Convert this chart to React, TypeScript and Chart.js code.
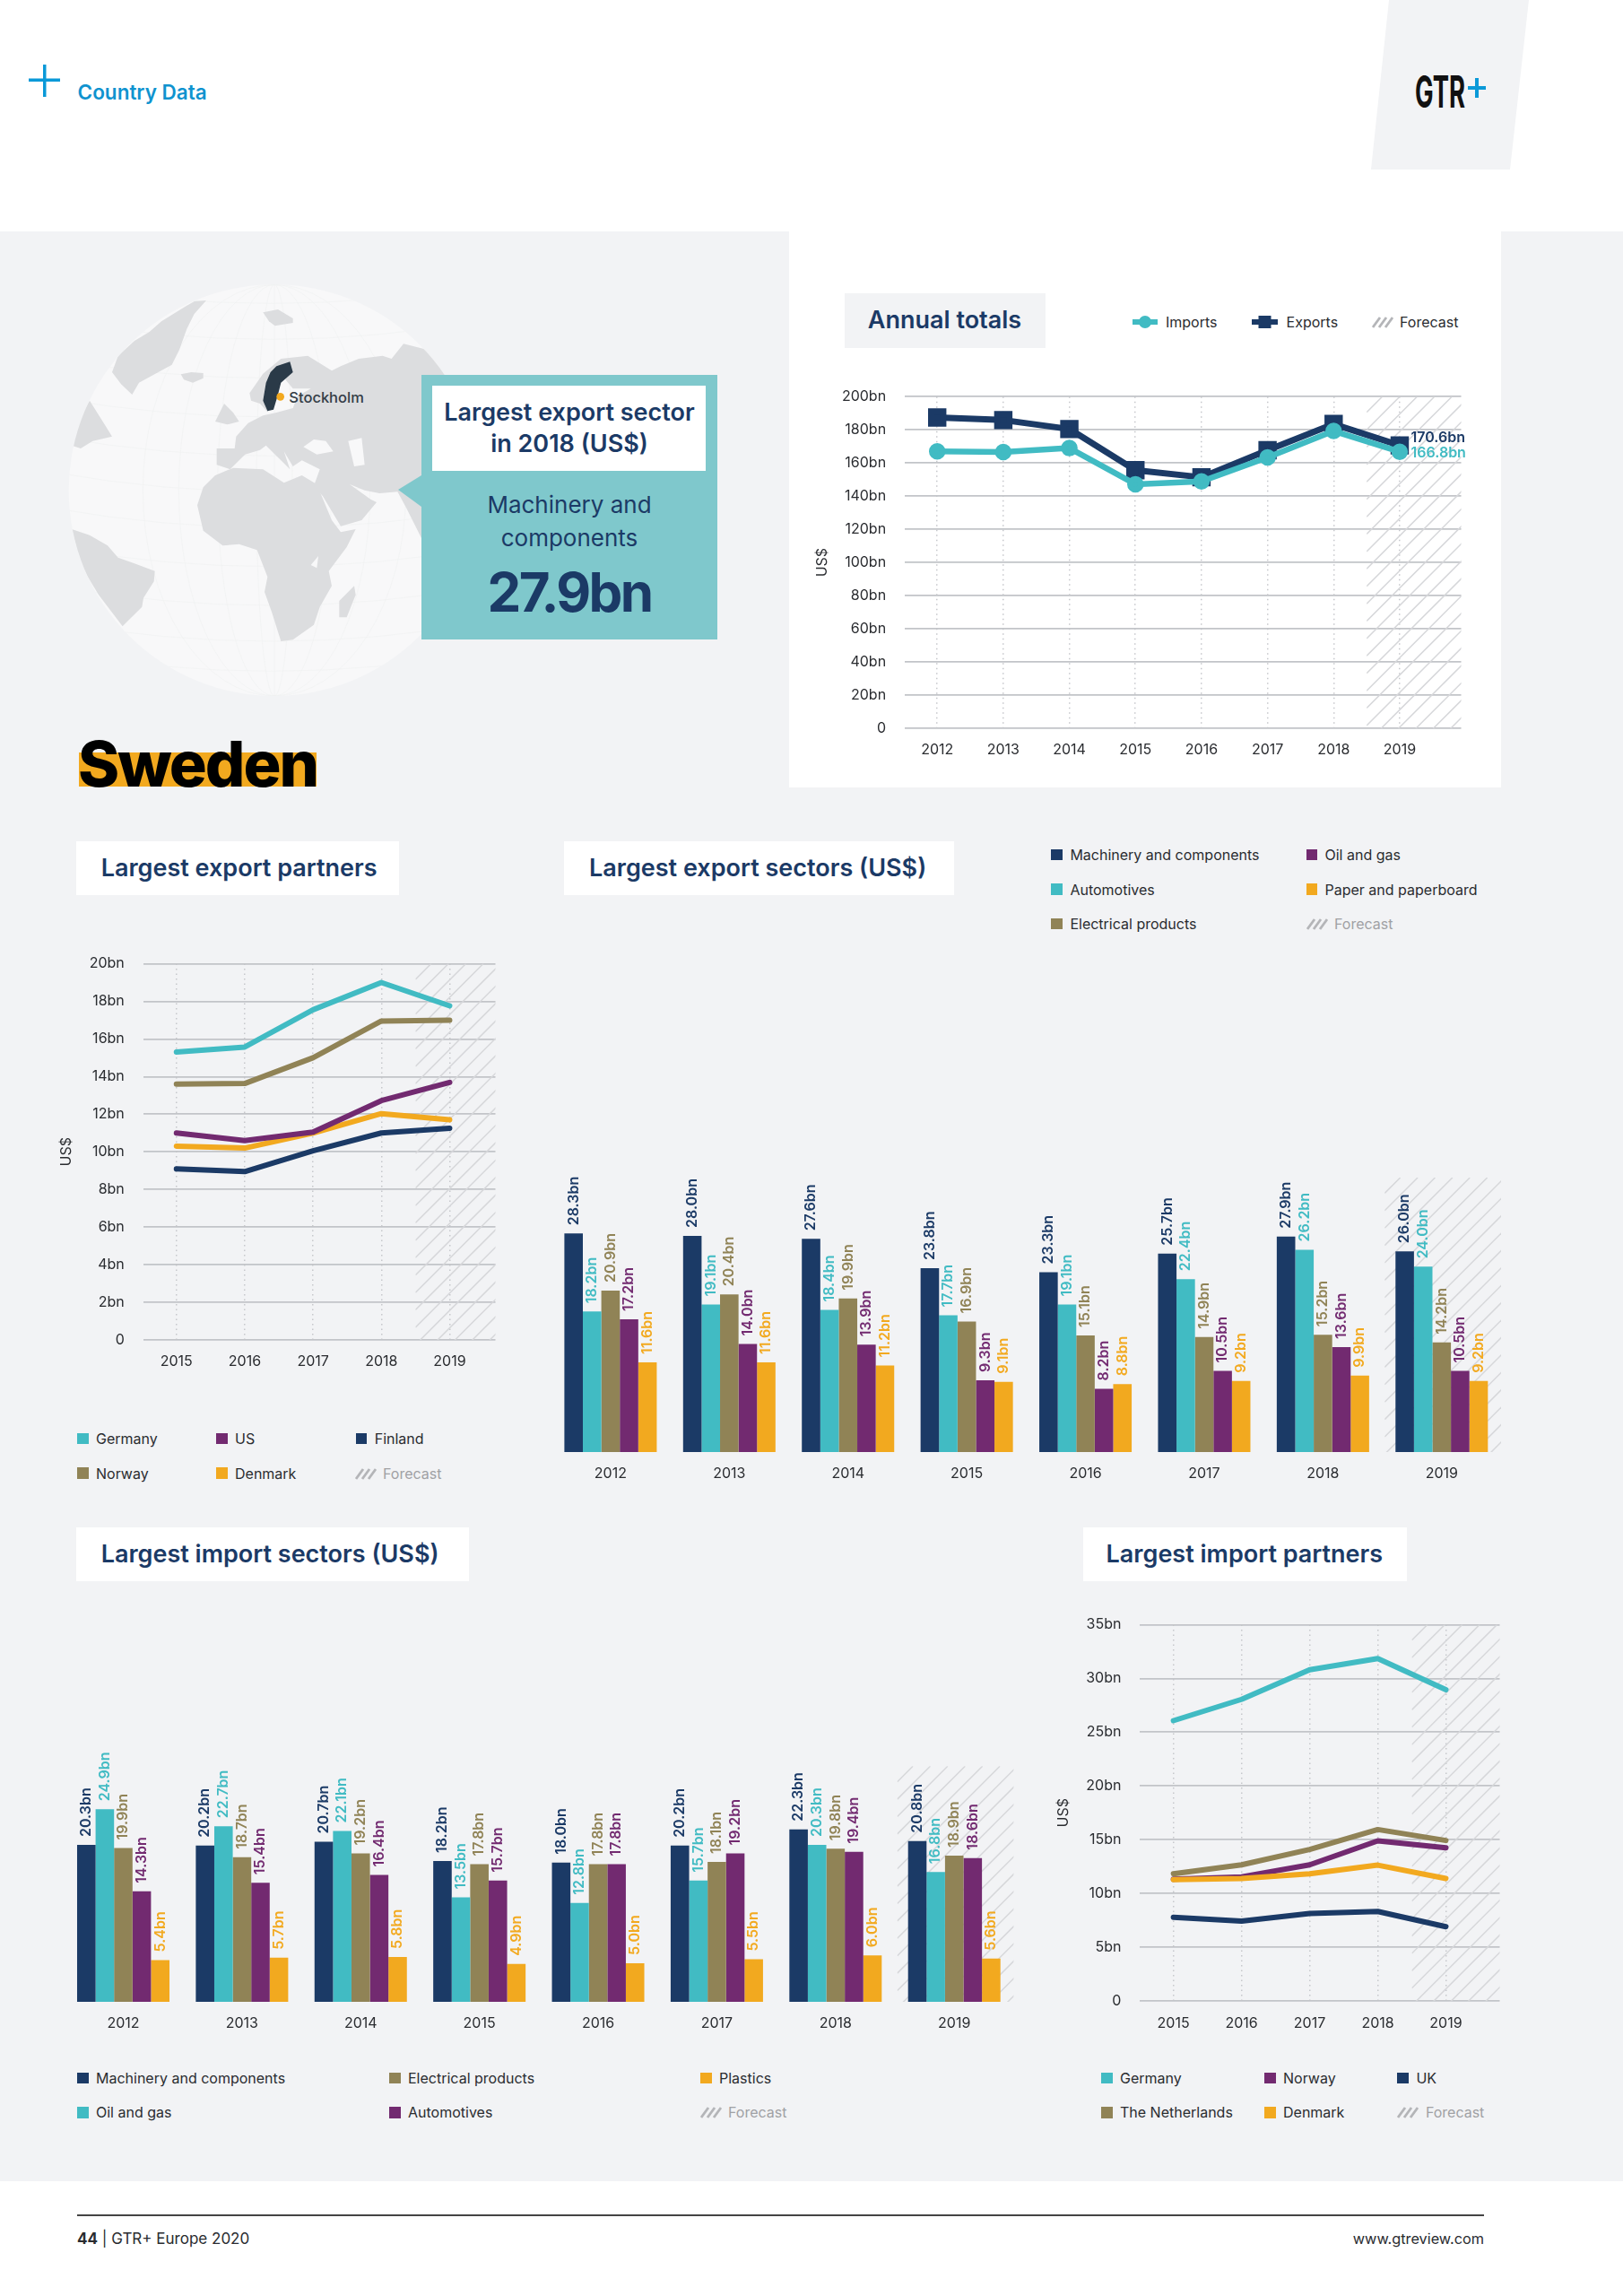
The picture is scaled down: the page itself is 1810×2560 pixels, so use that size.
import React, { useEffect, useRef } from "react";
import { Chart, registerables } from "chart.js";

Chart.register(...registerables);

const NAVY = "#1b3a66";
const TEAL = "#41bbc3";
const KHAKI = "#908356";
const PURPLE = "#722a70";
const ORANGE = "#f2a91f";
const BG = "#f2f3f5";
const GRID = "#c2c4c8";
const DOT = "#c6c8cc";
const HATCH = "#d6d7da";
const INK = "#2a2c30";
const FONT = "Inter, 'Noto Sans', sans-serif";

// ---------- data ----------
const totalYears = [2012, 2013, 2014, 2015, 2016, 2017, 2018, 2019];
const importsTotal = [167, 166.6, 169, 147.2, 148.9, 163.4, 179.3, 166.8];
const exportsTotal = [187.4, 185.9, 180.5, 155.7, 151.4, 167.7, 183.5, 170.6];

const partnerYears = [2015, 2016, 2017, 2018, 2019];
const expGermany = [15.3, 15.57, 17.55, 19.0, 17.76];
const expNorway = [13.6, 13.63, 15.0, 16.95, 17.0];
const expUS = [11.0, 10.6, 11.05, 12.72, 13.69];
const expDenmark = [10.3, 10.2, 11.0, 12.03, 11.7];
const expFinland = [9.09, 8.95, 10.05, 11.0, 11.25];

const impGermany = [26.07, 28.05, 30.8, 31.85, 28.94];
const impNetherlands = [11.84, 12.67, 14.1, 15.95, 14.93];
const impNorway = [11.33, 11.55, 12.67, 14.9, 14.26];
const impDenmark = [11.3, 11.4, 11.84, 12.64, 11.4];
const impUK = [7.79, 7.43, 8.14, 8.33, 6.92];

const sectorYears = ["2012", "2013", "2014", "2015", "2016", "2017", "2018", "2019"];
const exMachinery = [28.3, 28.0, 27.6, 23.8, 23.3, 25.7, 27.9, 26.0];
const exAutomotives = [18.2, 19.1, 18.4, 17.7, 19.1, 22.4, 26.2, 24.0];
const exElectrical = [20.9, 20.4, 19.9, 16.9, 15.1, 14.9, 15.2, 14.2];
const exOilGas = [17.2, 14.0, 13.9, 9.3, 8.2, 10.5, 13.6, 10.5];
const exPaper = [11.6, 11.6, 11.2, 9.1, 8.8, 9.2, 9.9, 9.2];

const imMachinery = [20.3, 20.2, 20.7, 18.2, 18.0, 20.2, 22.3, 20.8];
const imOilGas = [24.9, 22.7, 22.1, 13.5, 12.8, 15.7, 20.3, 16.8];
const imElectrical = [19.9, 18.7, 19.2, 17.8, 17.8, 18.1, 19.8, 18.9];
const imAutomotives = [14.3, 15.4, 16.4, 15.7, 17.8, 19.2, 19.4, 18.6];
const imPlastics = [5.4, 5.7, 5.8, 4.9, 5.0, 5.5, 6.0, 5.6];

const sectorForecastStart = 6.52;
const partnerForecastStart = 2018.5;

// ---------- chart helpers ----------
type Box = { x: number; y: number; w: number; h: number };
type Plot = { x0: number; y0: number; x1: number; y1: number };

function hatchPlugin(fromValue: number) {
  return {
    id: "hatch",
    beforeDatasetsDraw(chart: any) {
      const { ctx, chartArea: a, scales } = chart;
      const left = scales.x.getPixelForValue(fromValue);
      const step = 19.4;
      ctx.save();
      ctx.beginPath();
      ctx.rect(left, a.top, a.right - left, a.bottom - a.top);
      ctx.clip();
      ctx.strokeStyle = HATCH;
      ctx.lineWidth = 1.5;
      const span = a.right - left + (a.bottom - a.top);
      for (let c = 17.4; c < span + step; c += step) {
        ctx.beginPath();
        ctx.moveTo(left, a.top + c);
        ctx.lineTo(left + c, a.top);
        ctx.stroke();
      }
      ctx.restore();
    },
  };
}

const barLabelPlugin = {
  id: "barLabels",
  afterDatasetsDraw(chart: any) {
    const { ctx } = chart;
    chart.data.datasets.forEach((ds: any, i: number) => {
      chart.getDatasetMeta(i).data.forEach((el: any, j: number) => {
        ctx.save();
        ctx.translate(el.x, el.y - 9);
        ctx.rotate(-Math.PI / 2);
        ctx.font = `600 16px ${FONT}`;
        ctx.fillStyle = ds.backgroundColor;
        ctx.textAlign = "left";
        ctx.textBaseline = "middle";
        ctx.fillText(ds.data[j].toFixed(1) + "bn", 0, 0);
        ctx.restore();
      });
    });
  },
};

const endLabelPlugin = {
  id: "endLabels",
  afterDatasetsDraw(chart: any) {
    const { ctx } = chart;
    chart.data.datasets.forEach((ds: any, i: number) => {
      const pts = chart.getDatasetMeta(i).data;
      const last = pts[pts.length - 1];
      const v = ds.data[ds.data.length - 1].y;
      ctx.save();
      ctx.font = `600 16px ${FONT}`;
      ctx.fillStyle = ds.borderColor;
      ctx.textAlign = "left";
      ctx.textBaseline = "middle";
      ctx.fillText(v.toFixed(1) + "bn", last.x + 12.5, last.y + ds.labelShift);
      ctx.restore();
    });
  },
};

const tickFont = { family: FONT, size: 16, weight: "400" as const };

function lineConfig(
  box: Box,
  plot: Plot,
  years: number[],
  xMin: number,
  xMax: number,
  yMax: number,
  yStep: number,
  datasets: any[],
  extra: any[] = []
) {
  return {
    type: "line",
    data: { datasets },
    plugins: [hatchPlugin(partnerForecastStart), ...extra],
    options: {
      animation: false,
      responsive: false,
      devicePixelRatio: 1,
      layout: {
        autoPadding: false,
        padding: { left: 0, top: plot.y0 - box.y, right: box.x + box.w - plot.x1, bottom: 0 },
      },
      plugins: { legend: { display: false }, tooltip: { enabled: false } },
      elements: { line: { tension: 0, borderCapStyle: "round", borderJoinStyle: "round" } },
      scales: {
        x: {
          type: "linear",
          min: xMin,
          max: xMax,
          afterFit(s: any) {
            s.height = box.y + box.h - plot.y1;
            s.paddingLeft = 0;
            s.paddingRight = 0;
          },
          afterBuildTicks(s: any) {
            s.ticks = years.map((v) => ({ value: v }));
          },
          grid: { color: DOT, lineWidth: 1.5, drawTicks: false },
          border: { display: false, dash: [1.5, 4] },
          ticks: {
            padding: 15,
            color: INK,
            font: tickFont,
            maxRotation: 0,
            autoSkip: false,
            callback: (v: number) => String(v),
          },
        },
        y: {
          min: 0,
          max: yMax,
          afterFit(s: any) {
            s.width = plot.x0 - box.x;
            s.paddingTop = 0;
            s.paddingBottom = 0;
          },
          grid: { color: GRID, lineWidth: 1.7, drawTicks: false },
          border: { display: false },
          title: { display: true, text: "US$", color: INK, font: tickFont, padding: 0 },
          ticks: {
            padding: 21,
            stepSize: yStep,
            color: INK,
            font: tickFont,
            callback: (v: number) => (v === 0 ? "0" : v + "bn"),
          },
        },
      },
    },
  };
}

function lineSet(label: string, years: number[], values: number[], color: string, width = 6, more: any = {}) {
  return {
    label,
    data: years.map((y, i) => ({ x: y, y: values[i] })),
    borderColor: color,
    backgroundColor: color,
    borderWidth: width,
    pointRadius: 0,
    ...more,
  };
}

function barConfig(box: Box, plot: Plot, yMax: number, series: [string, number[], string][]) {
  return {
    type: "bar",
    data: {
      labels: sectorYears,
      datasets: series.map(([label, data, color]) => ({ label, data, backgroundColor: color })),
    },
    plugins: [hatchPlugin(sectorForecastStart), barLabelPlugin],
    options: {
      animation: false,
      responsive: false,
      devicePixelRatio: 1,
      layout: {
        autoPadding: false,
        padding: { left: plot.x0 - box.x, top: plot.y0 - box.y, right: box.x + box.w - plot.x1, bottom: 0 },
      },
      plugins: { legend: { display: false }, tooltip: { enabled: false } },
      datasets: { bar: { categoryPercentage: 0.778, barPercentage: 1 } },
      scales: {
        x: {
          afterFit(s: any) {
            s.height = box.y + box.h - plot.y1;
          },
          grid: { display: false, drawTicks: false },
          border: { display: false },
          ticks: { padding: 15, color: INK, font: tickFont, maxRotation: 0, autoSkip: false },
        },
        y: { display: false, min: 0, max: yMax },
      },
    },
  };
}

function ChartBox({ box, make }: { box: Box; make: () => any }) {
  const ref = useRef<HTMLCanvasElement>(null);
  useEffect(() => {
    const chart = new Chart(ref.current as HTMLCanvasElement, make());
    return () => chart.destroy();
  }, []);
  return (
    <canvas
      ref={ref}
      width={box.w}
      height={box.h}
      style={{ position: "absolute", left: box.x, top: box.y, width: box.w, height: box.h, display: "block" }}
    />
  );
}

// ---------- html helpers ----------
function T(p: {
  x: number;
  y: number;
  s: number;
  w?: number;
  c?: string;
  a?: "l" | "c" | "r";
  ls?: number;
  children: React.ReactNode;
}) {
  const tx = p.a === "c" ? "-50%" : p.a === "r" ? "-100%" : "0";
  return (
    <div
      style={{
        position: "absolute",
        left: p.x,
        top: p.y,
        transform: `translate(${tx}, -50%)`,
        fontFamily: FONT,
        fontSize: p.s,
        fontWeight: p.w || 400,
        color: p.c || INK,
        lineHeight: 1,
        whiteSpace: "nowrap",
        letterSpacing: p.ls || 0,
      }}
    >
      {p.children}
    </div>
  );
}

function Rect(p: { x: number; y: number; w: number; h: number; c: string }) {
  return <div style={{ position: "absolute", left: p.x, top: p.y, width: p.w, height: p.h, background: p.c }} />;
}

function Swatch({ x, y, label, color }: { x: number; y: number; label: string; color: string }) {
  return (
    <>
      <Rect x={x} y={y - 6.3} w={12.5} h={12.5} c={color} />
      <T x={x + 21} y={y} s={16}>
        {label}
      </T>
    </>
  );
}

function ForecastKey({ x, y, gap = 32, c = "#a0a1a4" }: { x: number; y: number; gap?: number; c?: string }) {
  return (
    <>
      <svg style={{ position: "absolute", left: x, top: y - 7 }} width={24} height={14}>
        {[0, 7, 14].map((d) => (
          <line key={d} x1={d + 1} y1={13} x2={d + 9} y2={2} stroke="#b4b5b8" strokeWidth={2.8} />
        ))}
      </svg>
      <T x={x + gap} y={y} s={16} c={c}>
        Forecast
      </T>
    </>
  );
}

function TitleBox(p: { x0: number; x1: number; y0: number; y1: number; tx: number; c: string; children: string }) {
  return (
    <>
      <Rect x={p.x0} y={p.y0} w={p.x1 - p.x0} h={p.y1 - p.y0} c={p.c} />
      <T x={p.tx} y={(p.y0 + p.y1) / 2 - 1} s={27} w={600} c={NAVY}>
        {p.children}
      </T>
    </>
  );
}

function Globe() {
  const land = "#dcdddf";
  const sea = "#f8f8f9";
  const meridians = [60, 190, 320, 440];
  const parallels = [110, 230, 360, 490, 620, 740, 860, 990, 1120, 1240, 1340];
  return (
    <svg
      style={{ position: "absolute", left: 60, top: 300 }}
      width={480}
      height={500}
      viewBox="0 0 1440 1500"
    >
      <defs>
        <clipPath id="gl">
          <circle cx={738} cy={740} r={688} />
        </clipPath>
      </defs>
      <circle cx={738} cy={740} r={688} fill={sea} />
      <g clipPath="url(#gl)">
        <g fill="none" stroke="#f0f1f2" strokeWidth={2}>
          {meridians.map((m) => (
            <ellipse key={m} cx={738} cy={740} rx={m} ry={688} />
          ))}
          <line x1={738} y1={52} x2={738} y2={1428} />
          {parallels.map((y) => (
            <path key={y} d={`M 0 ${y - 60} Q 738 ${y + 70} 1440 ${y - 60}`} />
          ))}
        </g>
        <g fill={land}>
          <path d="M510 105 L470 108 L440 125 L400 150 L360 175 L320 210 L270 240 L215 290 L195 345 L225 385 L262 420 L285 380 L340 350 L395 320 L420 270 L445 200 L470 150 Z" />
          <path d="M425 352 L460 345 L500 348 L500 365 L465 380 L435 370 Z" />
          <path d="M700 145 L750 135 L800 165 L800 180 L740 190 L720 175 Z" />
          <path d="M120 440 L170 520 L195 560 L130 575 L90 600 L60 590 L80 510 Z" />
          <path d="M60 870 L120 890 L180 925 L215 965 L270 985 L338 1010 L335 1045 L300 1100 L295 1130 L230 1195 L150 1090 L90 990 Z" />
          <path d="M480 790 L500 730 L540 690 L600 665 L700 670 L770 715 L830 690 L880 720 L930 840 L960 880 L1010 870 L980 930 L920 1010 L930 1060 L890 1130 L870 1190 L800 1240 L760 1245 L730 1150 L705 1080 L715 1030 L680 940 L620 920 L565 925 L500 875 Z" />
          <path d="M1005 1060 L1010 1090 L980 1165 L955 1165 L955 1110 Z" />
          <path d="M540 510 L570 450 L600 480 L620 510 L580 520 Z" />
          <path d="M545 600 L605 600 L610 560 L650 515 L700 490 L745 480 L800 465 L815 425 L860 400 L800 400 L775 370 L775 345 L740 395 L735 450 L715 478 L690 450 L660 440 L655 415 L700 350 L760 300 L850 290 L930 340 L960 325 L1020 300 L1100 290 L1130 300 L1170 250 L1250 270 L1310 350 L1440 350 L1440 900 L1230 900 L1180 800 L1150 745 L1090 750 L1040 740 L990 720 L1060 770 L1080 780 L1030 840 L960 860 L900 760 L870 725 L890 670 L830 640 L800 660 L770 610 L790 670 L760 640 L710 590 L690 605 L640 620 L590 670 L545 655 Z" />
        </g>
        <g fill={sea}>
          <path d="M985 575 L1030 565 L1040 655 L1005 660 Z" />
          <path d="M835 595 L870 570 L910 575 L935 610 L880 620 Z" />
          <path d="M860 990 L885 960 L880 1000 Z" />
        </g>
        <path
          d="M745 325 L790 310 L800 345 L760 380 L750 420 L735 470 L715 475 L700 440 L710 380 L725 345 Z"
          fill="#2a3a48"
        />
        <circle cx={758} cy={427} r={13} fill={ORANGE} />
      </g>
    </svg>
  );
}

// ---------- page ----------
const annualBox: Box = { x: 907.5, y: 420, w: 760, h: 440 };
const annualPlot: Plot = { x0: 1008.6, y0: 442.3, x1: 1629, y1: 812 };
const partnersExBox: Box = { x: 64.5, y: 1055, w: 510, h: 480 };
const partnersExPlot: Plot = { x0: 159.3, y0: 1074.5, x1: 552, y1: 1494 };
const partnersImBox: Box = { x: 1176.5, y: 1790, w: 510, h: 480 };
const partnersImPlot: Plot = { x0: 1270.9, y0: 1811.4, x1: 1672, y1: 2231.2 };
const exSectorBox: Box = { x: 600, y: 1290, w: 1085, h: 370 };
const exSectorPlot: Plot = { x0: 614.7, y0: 1313, x1: 1674, y1: 1619 };
const imSectorBox: Box = { x: 60, y: 1940, w: 1085, h: 330 };
const imSectorPlot: Plot = { x0: 71.3, y0: 1969.3, x1: 1130.4, y1: 2232 };

export default function App() {
  return (
    <div style={{ position: "absolute", left: 0, top: 0, width: 1810, height: 2560, background: "#fff", overflow: "hidden" }}>
      <Rect x={0} y={258} w={1810} h={2174} c={BG} />
      <Rect x={880} y={258} w={794} h={620} c="#fff" />

      <svg style={{ position: "absolute", left: 0, top: 0 }} width={1810} height={260}>
        <polygon points="1549,0 1705,0 1684,189 1529,189" fill={BG} />
        <rect x={32} y={87.5} width={35} height={3.5} fill="#0a99d8" />
        <rect x={48} y={72} width={3.5} height={36} fill="#0a99d8" />
        <text x={1578} y={120} fontFamily={FONT} fontSize={49} fontWeight={700} textLength={56} lengthAdjust="spacingAndGlyphs" fill="#111">
          GTR
        </text>
        <rect x={1637} y={96} width={20} height={4} fill="#0a99d8" />
        <rect x={1645} y={87} width={4} height={22} fill="#0a99d8" />
      </svg>
      <T x={86.6} y={103} s={22.5} w={600} c="#0f93cf">
        Country Data
      </T>

      <Globe />
      <T x={322.3} y={442.7} s={16.5} w={500} c="#333c46">
        Stockholm
      </T>
      <svg style={{ position: "absolute", left: 440, top: 520 }} width={32} height={50}>
        <polygon points="4,26 30,10 30,45" fill="#7fc8cc" />
      </svg>
      <Rect x={470} y={418} w={330} h={295} c="#7fc8cc" />
      <Rect x={482.3} y={430} w={305} h={95} c="#fff" />
      <T x={635} y={459} s={27} w={600} c={NAVY} a="c">
        Largest export sector
      </T>
      <T x={635} y={494} s={27} w={600} c={NAVY} a="c">
        in 2018 (US$)
      </T>
      <T x={635} y={563} s={26} c={NAVY} a="c">
        Machinery and
      </T>
      <T x={635} y={600} s={26} c={NAVY} a="c">
        components
      </T>
      <T x={635} y={660} s={60} w={700} c={NAVY} a="c" ls={-2.6}>
        27.9bn
      </T>

      <Rect x={88} y={839} w={265} h={38} c={ORANGE} />
      <T x={87} y={851.6} s={70} w={800} c="#000" ls={-2}>
        Sweden
      </T>

      {/* annual totals */}
      <TitleBox x0={941.7} x1={1166} y0={327} y1={387.7} tx={967.8} c={BG}>
        Annual totals
      </TitleBox>
      <svg style={{ position: "absolute", left: 1260, top: 348 }} width={170} height={22}>
        <line x1={3} y1={11} x2={31} y2={11} stroke={TEAL} strokeWidth={6} />
        <circle cx={17} cy={11} r={7} fill={TEAL} />
        <line x1={136} y1={11} x2={165} y2={11} stroke={NAVY} strokeWidth={6} />
        <rect x={143.5} y={4} width={14} height={14} fill={NAVY} />
      </svg>
      <T x={1300} y={359} s={16}>
        Imports
      </T>
      <T x={1434.6} y={359} s={16}>
        Exports
      </T>
      <ForecastKey x={1529.5} y={359} gap={31.5} c={INK} />
      <ChartBox
        box={annualBox}
        make={() =>
          lineConfig(
            annualBox,
            annualPlot,
            totalYears,
            2011.51,
            2019.93,
            200,
            20,
            [
              lineSet("Imports", totalYears, importsTotal, TEAL, 6.5, { pointRadius: 6, pointStyle: "circle", labelShift: 2 }),
              lineSet("Exports", totalYears, exportsTotal, NAVY, 7, { pointRadius: 9.5, pointStyle: "rect", labelShift: -8.6 }),
            ],
            [endLabelPlugin]
          )
        }
      />

      {/* export partners */}
      <TitleBox x0={85} x1={444.5} y0={938} y1={998} tx={112.7} c="#fff">
        Largest export partners
      </TitleBox>
      <ChartBox
        box={partnersExBox}
        make={() =>
          lineConfig(partnersExBox, partnersExPlot, partnerYears, 2014.515, 2019.67, 20, 2, [
            lineSet("Germany", partnerYears, expGermany, TEAL),
            lineSet("Norway", partnerYears, expNorway, KHAKI),
            lineSet("US", partnerYears, expUS, PURPLE),
            lineSet("Denmark", partnerYears, expDenmark, ORANGE),
            lineSet("Finland", partnerYears, expFinland, NAVY),
          ])
        }
      />
      <Swatch x={86} y={1604} label="Germany" color={TEAL} />
      <Swatch x={86} y={1642.5} label="Norway" color={KHAKI} />
      <Swatch x={241} y={1604} label="US" color={PURPLE} />
      <Swatch x={241} y={1642.5} label="Denmark" color={ORANGE} />
      <Swatch x={396.7} y={1604} label="Finland" color={NAVY} />
      <ForecastKey x={396} y={1642.5} gap={31} />

      {/* export sectors */}
      <TitleBox x0={629} x1={1064} y0={938} y1={998} tx={657} c="#fff">
        Largest export sectors (US$)
      </TitleBox>
      <Swatch x={1172.4} y={953} label="Machinery and components" color={NAVY} />
      <Swatch x={1172.4} y={991.7} label="Automotives" color={TEAL} />
      <Swatch x={1172.4} y={1030} label="Electrical products" color={KHAKI} />
      <Swatch x={1456.5} y={953} label="Oil and gas" color={PURPLE} />
      <Swatch x={1456.5} y={991.7} label="Paper and paperboard" color={ORANGE} />
      <ForecastKey x={1456.5} y={1030} gap={31.5} />
      <ChartBox
        box={exSectorBox}
        make={() =>
          barConfig(exSectorBox, exSectorPlot, 35.54, [
            ["Machinery and components", exMachinery, NAVY],
            ["Automotives", exAutomotives, TEAL],
            ["Electrical products", exElectrical, KHAKI],
            ["Oil and gas", exOilGas, PURPLE],
            ["Paper and paperboard", exPaper, ORANGE],
          ])
        }
      />

      {/* import sectors */}
      <TitleBox x0={85} x1={523} y0={1702.7} y1={1763} tx={112.7} c="#fff">
        Largest import sectors (US$)
      </TitleBox>
      <ChartBox
        box={imSectorBox}
        make={() =>
          barConfig(imSectorBox, imSectorPlot, 30.47, [
            ["Machinery and components", imMachinery, NAVY],
            ["Oil and gas", imOilGas, TEAL],
            ["Electrical products", imElectrical, KHAKI],
            ["Automotives", imAutomotives, PURPLE],
            ["Plastics", imPlastics, ORANGE],
          ])
        }
      />
      <Swatch x={86} y={2317} label="Machinery and components" color={NAVY} />
      <Swatch x={86} y={2355.3} label="Oil and gas" color={TEAL} />
      <Swatch x={434} y={2317} label="Electrical products" color={KHAKI} />
      <Swatch x={434} y={2355.3} label="Automotives" color={PURPLE} />
      <Swatch x={781} y={2317} label="Plastics" color={ORANGE} />
      <ForecastKey x={781} y={2355.3} gap={31} />

      {/* import partners */}
      <TitleBox x0={1207.6} x1={1568.6} y0={1702.7} y1={1763} tx={1233.6} c="#fff">
        Largest import partners
      </TitleBox>
      <ChartBox
        box={partnersImBox}
        make={() =>
          lineConfig(partnersImBox, partnersImPlot, partnerYears, 2014.51, 2019.79, 35, 5, [
            lineSet("Germany", partnerYears, impGermany, TEAL),
            lineSet("Denmark", partnerYears, impDenmark, ORANGE),
            lineSet("The Netherlands", partnerYears, impNetherlands, KHAKI),
            lineSet("Norway", partnerYears, impNorway, PURPLE),
            lineSet("UK", partnerYears, impUK, NAVY),
          ])
        }
      />
      <Swatch x={1228} y={2317} label="Germany" color={TEAL} />
      <Swatch x={1228} y={2355.3} label="The Netherlands" color={KHAKI} />
      <Swatch x={1410} y={2317} label="Norway" color={PURPLE} />
      <Swatch x={1410} y={2355.3} label="Denmark" color={ORANGE} />
      <Swatch x={1558.4} y={2317} label="UK" color={NAVY} />
      <ForecastKey x={1558.4} y={2355.3} gap={31.5} />

      {/* footer */}
      <Rect x={86} y={2469} w={1569} h={2} c="#444" />
      <T x={86} y={2496} s={17}>
        <b>44</b> | GTR+ Europe 2020
      </T>
      <T x={1655} y={2496} s={16.3} a="r">
        www.gtreview.com
      </T>
    </div>
  );
}
